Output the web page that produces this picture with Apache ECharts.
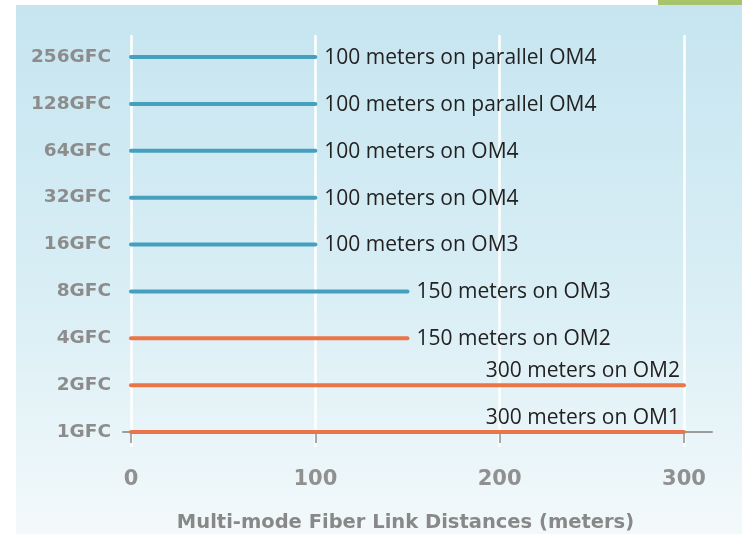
<!DOCTYPE html>
<html>
<head>
<meta charset="utf-8">
<script src="https://cdn.jsdelivr.net/npm/echarts@6/dist/echarts.min.js"></script>
<style>
  html, body { margin: 0; padding: 0; background: #ffffff; }
  #chart { width: 742px; height: 534px; }
</style>
</head>
<body>
<div id="chart"></div>
<script>
// Fibre Channel speeds, bottom to top
const categories = ['1GFC', '2GFC', '4GFC', '8GFC', '16GFC', '32GFC', '64GFC', '128GFC', '256GFC'];
// Maximum multi-mode link distance (meters)
const distances = [300, 300, 150, 150, 100, 100, 100, 100, 100];
// Fibre grade each distance applies to
const fiberTypes = ['OM1', 'OM2', 'OM2', 'OM3', 'OM3', 'OM4', 'OM4', 'parallel OM4', 'parallel OM4'];
// Speed family: older generations vs. newer generations
const families = ['older', 'older', 'older', 'newer', 'newer', 'newer', 'newer', 'newer', 'newer'];
// Distance axis ticks
const xTicks = [0, 100, 200, 300];

const familyColor = { older: '#ea7548', newer: '#45a0bd' };
const xMax = xTicks[xTicks.length - 1];
const yTicks = categories.map((_, i) => i);
const labelFont = 'DejaVu Sans';

const chart = echarts.init(document.getElementById('chart'), null, { renderer: 'canvas' });

chart.setOption({
  backgroundColor: '#ffffff',
  animation: false,
  graphic: [
    {
      type: 'rect', z: -10, silent: true,
      shape: { x: 16, y: 5, width: 726, height: 529 },
      style: {
        fill: new echarts.graphic.LinearGradient(0, 0, 0, 1, [
          { offset: 0, color: '#c6e5f0' },
          { offset: 0.55, color: '#d9eef5' },
          { offset: 1, color: '#f3f9fb' }
        ])
      }
    },
    {
      type: 'rect', z: -9, silent: true,
      shape: { x: 658, y: 0, width: 84, height: 5 },
      style: { fill: '#a8c46a' }
    }
  ],
  grid: { left: 123, right: 30, top: 35, bottom: 87, containLabel: false, outerBoundsMode: 'none' },
  xAxis: {
    type: 'value',
    min: -4.34,
    max: 315.2,
    name: 'Multi-mode Fiber Link Distances (meters)',
    nameLocation: 'middle',
    nameGap: 66,
    nameTextStyle: {
      fontFamily: labelFont, fontSize: 19.5, fontWeight: 'bold', color: '#888888',
      padding: [0, 24, 0, 0]
    },
    axisLine: { show: true, lineStyle: { color: '#9c9c9c', width: 2 } },
    axisTick: { show: true, length: 11, customValues: xTicks, lineStyle: { color: '#a8a8a8', width: 2 } },
    axisLabel: {
      customValues: xTicks, margin: 22,
      fontFamily: labelFont, fontSize: 21, fontWeight: 'bold', color: '#909090'
    },
    splitLine: { show: true, lineStyle: { color: '#ffffff', width: 2.5 } }
  },
  yAxis: {
    type: 'value',
    min: -0.32,
    max: 8.47,
    axisLine: { show: false },
    axisTick: { show: false },
    splitLine: { show: false },
    axisLabel: {
      customValues: yTicks,
      margin: 12,
      formatter: (v) => categories[Math.round(v)],
      fontFamily: labelFont, fontSize: 18.5, fontWeight: 'bold', color: '#8c8c8c'
    }
  },
  series: [{
    type: 'custom',
    data: distances.map((d, i) => [d, i]),
    renderItem: (params, api) => {
      const v = api.value(0);
      const i = api.value(1);
      const start = api.coord([0, i]);
      const end = api.coord([v, i]);
      const color = familyColor[families[i]];
      const full = v >= xMax;
      return {
        type: 'group',
        children: [
          {
            type: 'line',
            shape: { x1: start[0], y1: start[1], x2: end[0], y2: end[1] },
            style: { stroke: color, lineWidth: 4, lineCap: 'round' }
          },
          {
            type: 'text',
            x: full ? end[0] - 4 : end[0] + 9,
            y: full ? end[1] - 14 : end[1] + 1,
            style: {
              text: v + ' meters on ' + fiberTypes[i],
              fill: '#222222',
              font: '400 21px "Open Sans"',
              align: full ? 'right' : 'left',
              verticalAlign: 'middle'
            }
          }
        ]
      };
    }
  }]
});
</script>
</body>
</html>
